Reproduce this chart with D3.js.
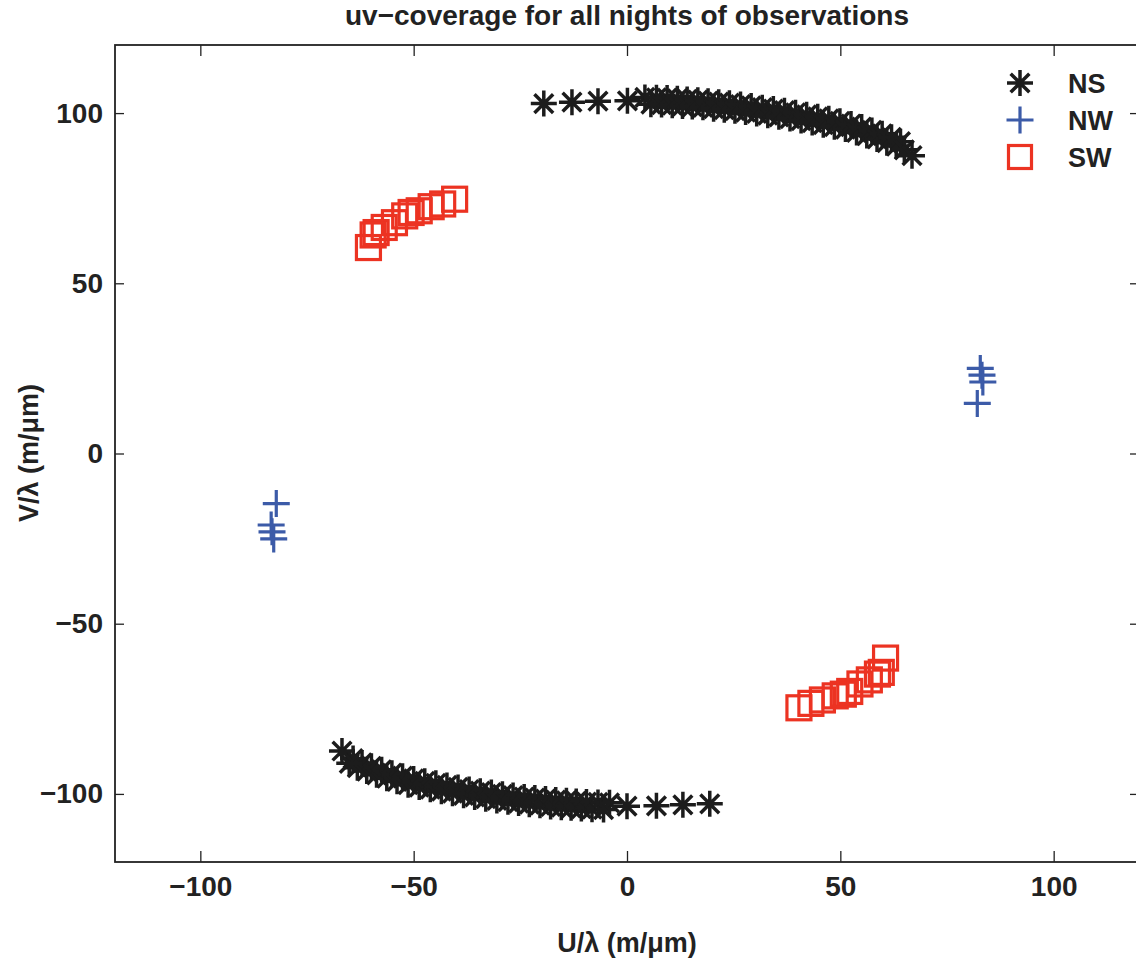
<!DOCTYPE html>
<html>
<head>
<meta charset="utf-8">
<script src="https://cdn.jsdelivr.net/npm/d3@7"></script>
<style>
  body { margin: 0; background: #fff; }
  svg text { font-family: "Liberation Sans", Arial, sans-serif; }
</style>
</head>
<body>
<svg id="chart" width="1136" height="960"></svg>
<script>
// values, [u, v] in m/um
const nsNorth = [
  [-19.5, 102.8], [-12.9, 103.2], [-6.8, 103.5], [0.1, 103.6],
  [4.2, 104.6], [5.6, 102.6], [6.9, 104.5], [8.1, 102.5], [9.4, 104.4], [10.6, 102.3],
  [11.8, 104.2], [13.0, 102.1], [14.1, 104.0], [15.3, 101.9], [16.6, 103.8], [17.8, 101.7],
  [19.0, 103.5], [20.3, 101.3], [21.5, 103.2], [22.8, 101.0], [24.0, 102.9], [25.3, 100.7],
  [26.6, 102.5], [27.8, 100.3], [29.1, 102.1], [30.4, 99.9], [31.7, 101.6], [33.0, 99.4],
  [34.3, 101.2], [35.6, 98.9], [36.9, 100.7], [38.2, 98.4], [39.5, 100.1], [40.8, 97.8],
  [42.1, 99.5], [43.4, 97.2], [44.7, 98.9], [46.0, 96.6], [47.3, 98.3], [48.6, 96.0],
  [49.9, 97.6], [51.2, 95.3], [52.5, 96.8], [53.8, 94.3], [55.0, 95.9], [56.2, 93.4],
  [57.4, 94.9], [58.6, 92.4], [59.8, 93.9], [60.9, 91.3], [62.0, 92.9], [63.1, 90.3],
  [64.1, 91.6], [65.0, 89.2], [66.8, 87.5]
];
const nsSouth = [
  [19.4, -102.9], [13.1, -103.2], [6.9, -103.5], [0.0, -103.6],
  [-4.1, -102.6], [-5.5, -104.6], [-6.8, -102.5], [-8.2, -104.5], [-9.5, -102.4], [-10.7, -104.3],
  [-11.9, -102.2], [-13.1, -104.1], [-14.2, -102.0], [-15.4, -103.9], [-16.7, -101.8], [-17.9, -103.7],
  [-19.1, -101.5], [-20.4, -103.3], [-21.6, -101.2], [-22.9, -103.0], [-24.1, -100.9], [-25.4, -102.7],
  [-26.7, -100.5], [-27.9, -102.3], [-29.2, -100.1], [-30.5, -101.9], [-31.8, -99.6], [-33.1, -101.4],
  [-34.4, -99.2], [-35.7, -100.9], [-37.0, -98.7], [-38.3, -100.4], [-39.6, -98.1], [-40.9, -99.8],
  [-42.2, -97.5], [-43.5, -99.2], [-44.8, -96.9], [-46.1, -98.6], [-47.4, -96.3], [-48.7, -98.0],
  [-50.0, -95.6], [-51.3, -97.3], [-52.6, -94.8], [-53.9, -96.3], [-55.1, -93.9], [-56.3, -95.4],
  [-57.5, -92.9], [-58.7, -94.4], [-59.9, -91.9], [-61.0, -93.3], [-62.1, -90.9], [-63.2, -92.3],
  [-64.2, -89.6], [-65.1, -91.0], [-66.8, -87.4]
];
const nwPoints = [
  [-82.2, -14.7], [-83.4, -21.0], [-83.2, -23.0], [-82.8, -25.1],
  [82.1, 14.7], [83.4, 21.0], [83.2, 23.0], [82.8, 25.0]
];
const swPoints = [
  [-40.4, 74.7], [-43.2, 73.3], [-45.9, 72.5], [-48.7, 71.3], [-50.6, 70.8], [-52.1, 69.8],
  [-54.5, 67.8], [-56.9, 66.4], [-58.8, 64.9], [-59.5, 64.2], [-60.6, 60.5],
  [40.3, -74.7], [43.1, -73.4], [45.8, -72.4], [48.8, -71.2], [50.7, -70.7], [52.2, -69.9],
  [54.6, -67.7], [56.8, -66.5], [58.7, -64.8], [59.6, -64.3], [60.6, -60.1]
];
const ticks = [-100, -50, 0, 50, 100];
const legendNames = ["NS", "NW", "SW"];

const colors = { NS: "#1c1c1c", NW: "#3c5ba8", SW: "#ec3322" };

const svg = d3.select("#chart");
const x = d3.scaleLinear().domain([-120, 120]).range([115, 1139]);
const y = d3.scaleLinear().domain([-120, 120]).range([862, 45]);

// marker drawers
function star(g, r) {
  const d = r * 0.72;
  g.append("path")
    .attr("d", `M${-r},0H${r}M0,${-r}V${r}M${-d},${-d}L${d},${d}M${-d},${d}L${d},${-d}`)
    .attr("stroke", colors.NS).attr("stroke-width", 3.5).attr("fill", "none");
}
function plus(g, r) {
  g.append("path")
    .attr("d", `M${-r},0H${r}M0,${-r}V${r}`)
    .attr("stroke", colors.NW).attr("stroke-width", 3.2).attr("fill", "none");
}
function square(g, r) {
  g.append("rect")
    .attr("x", -r).attr("y", -r).attr("width", 2 * r).attr("height", 2 * r)
    .attr("stroke", colors.SW).attr("stroke-width", 3.2).attr("fill", "none");
}

const plot = svg.append("g");

function drawSet(data, fn, r) {
  plot.append("g").selectAll("g")
    .data(data)
    .enter()
    .append("g")
    .attr("transform", d => `translate(${x(d[0])},${y(d[1])})`)
    .each(function () { fn(d3.select(this), r); });
}
drawSet(nsNorth.concat(nsSouth), star, 13);
drawSet(nwPoints, plus, 13.5);
drawSet(swPoints, square, 12);

// axes, ticks pointing inward on all four sides
const fmt = d3.format("d");
const axes = svg.append("g").attr("font-weight", "bold");

axes.append("g")
  .attr("transform", `translate(0,${y(-120)})`)
  .call(d3.axisBottom(x).tickValues(ticks).tickSize(-11).tickSizeOuter(0).tickPadding(14).tickFormat(fmt));
axes.append("g")
  .attr("transform", `translate(0,${y(120)})`)
  .call(d3.axisTop(x).tickValues(ticks).tickSize(-11).tickSizeOuter(0).tickFormat(""));
axes.append("g")
  .attr("transform", `translate(${x(-120)},0)`)
  .call(d3.axisLeft(y).tickValues(ticks).tickSize(-9).tickSizeOuter(0).tickPadding(12).tickFormat(fmt));
axes.append("g")
  .attr("transform", `translate(${x(120)},0)`)
  .call(d3.axisRight(y).tickValues(ticks).tickSize(-9).tickSizeOuter(0).tickFormat(""));

axes.selectAll(".domain").remove();
axes.selectAll(".tick line").attr("stroke", "#222").attr("stroke-width", 1.3);
axes.selectAll(".tick text")
  .attr("font-size", 28).attr("fill", "#222")
  .style("font-family", "'Liberation Sans', Arial, sans-serif");

svg.append("rect")
  .attr("x", x(-120)).attr("y", y(120))
  .attr("width", x(120) - x(-120)).attr("height", y(-120) - y(120))
  .attr("fill", "none").attr("stroke", "#222").attr("stroke-width", 1.8);

// title and labels
svg.append("text")
  .attr("x", 627).attr("y", 25)
  .attr("text-anchor", "middle")
  .attr("font-size", 28).attr("font-weight", "bold").attr("fill", "#222")
  .text("uv\u2212coverage for all nights of observations");

svg.append("text")
  .attr("x", 627).attr("y", 952)
  .attr("text-anchor", "middle")
  .attr("font-size", 27).attr("font-weight", "bold").attr("fill", "#222")
  .text("U/λ (m/μm)");

svg.append("text")
  .attr("transform", "translate(38,453) rotate(-90)")
  .attr("text-anchor", "middle")
  .attr("font-size", 27).attr("font-weight", "bold").attr("fill", "#222")
  .text("V/λ (m/μm)");

// legend (no box)
const legend = svg.append("g");
const markers = [star, plus, square];
const radii = [13, 13.5, 11.5];
legendNames.forEach((name, i) => {
  const row = legend.append("g").attr("transform", `translate(1020,${83 + i * 37})`);
  markers[i](row, radii[i]);
  row.append("text")
    .attr("x", 48).attr("y", 10)
    .attr("font-size", 27).attr("font-weight", "bold").attr("fill", "#222")
    .text(name);
});
</script>
</body>
</html>
